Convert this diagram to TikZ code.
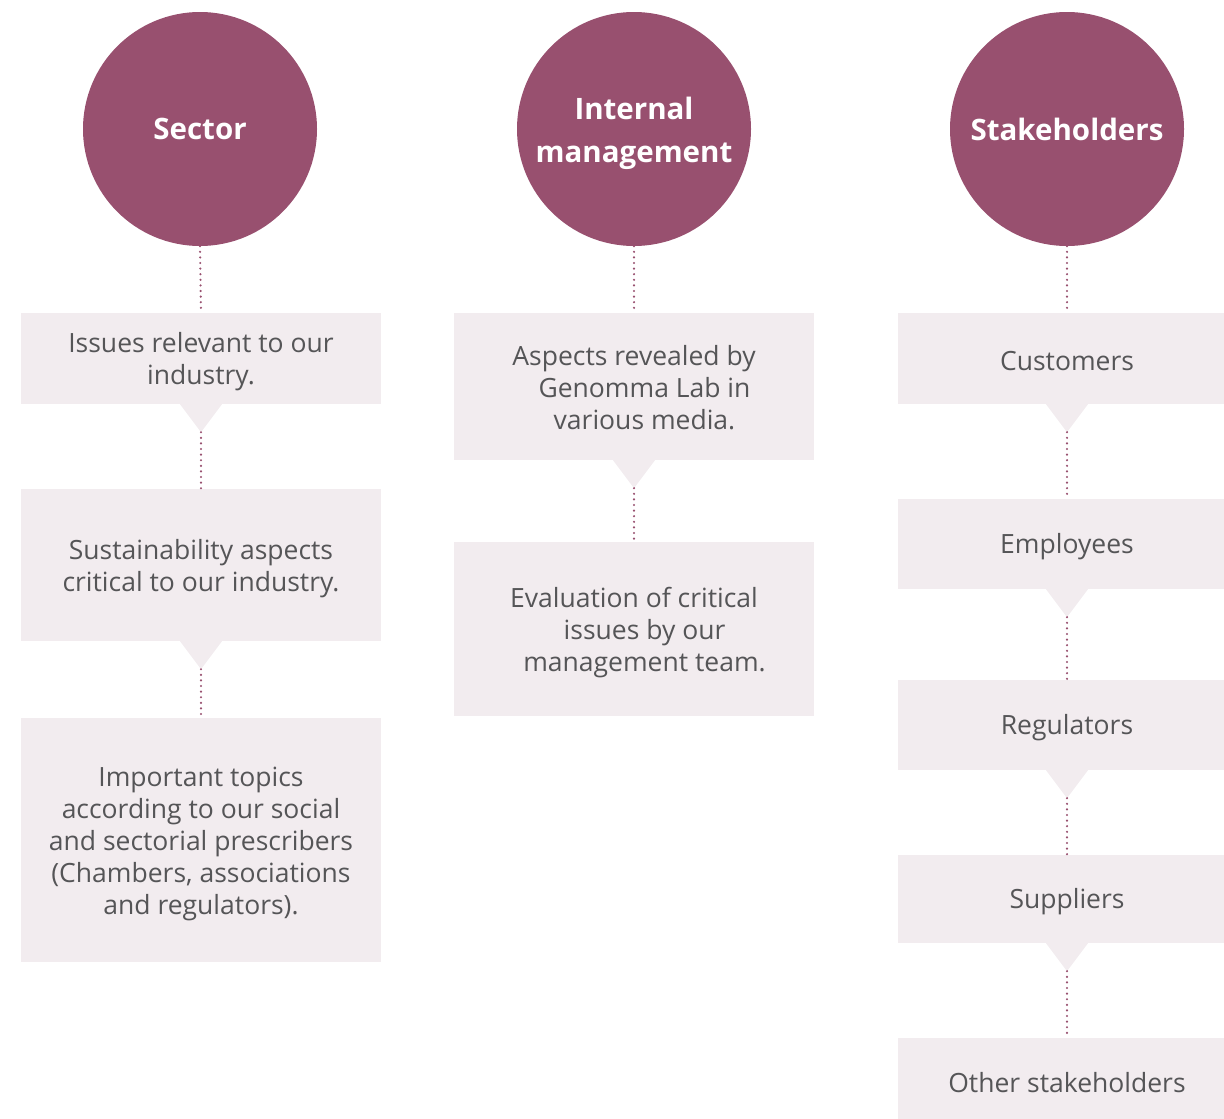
\documentclass[tikz,border=0pt]{standalone}
\usepackage{fontspec}
\setmainfont{Open Sans}
\definecolor{plum}{HTML}{98506F}
\definecolor{boxbg}{HTML}{F2ECEF}
\definecolor{txt}{HTML}{555557}
\begin{document}
\begin{tikzpicture}[x=1pt,y=-1pt,
  head/.style={circle,fill=plum,minimum size=234pt,inner sep=0pt},
  headtext/.style={inner sep=0pt,text=white,font=\fontsize{29.5}{43}\selectfont\bfseries,align=center},
  box/.style={rectangle,fill=boxbg,inner sep=0pt},
  boxtext/.style={inner sep=0pt,text=txt,align=center,font=\fontsize{26.5}{32}\selectfont},
  notch/.style={fill=boxbg},
  dots/.style={draw=plum,line width=2.4pt,line cap=round,dash pattern=on 0pt off 5.6pt}
]
\useasboundingbox (0,0) rectangle (1224,1119);
% heads
\node[head] (h1) at (200,129) {};
\node[head] (h2) at (634,129) {};
\node[head] (h3) at (1067,129) {};
\node[headtext] (h1t) at (h1.center) {Sector};
\node[headtext] (h2t) at ([yshift=-4pt]h2.center) {Internal\\management};
\node[headtext] (h3t) at (h3.center) {Stakeholders};
% column 1
\node[box,minimum width=360pt,minimum height=91pt] (a1) at (201,358.5) {};
\node[box,minimum width=360pt,minimum height=152pt] (a2) at (201,565) {};
\node[box,minimum width=360pt,minimum height=244pt] (a3) at (201,840) {};
% column 2
\node[box,minimum width=360pt,minimum height=147pt] (b1) at (634,386.5) {};
\node[box,minimum width=360pt,minimum height=174pt] (b2) at (634,629) {};
% column 3
\node[box,minimum width=338pt,minimum height=91pt] (c1) at (1067,358.5) {};
\node[box,minimum width=338pt,minimum height=90pt] (c2) at (1067,544) {};
\node[box,minimum width=338pt,minimum height=90pt] (c3) at (1067,725) {};
\node[box,minimum width=338pt,minimum height=88pt] (c4) at (1067,899) {};
\node[box,minimum width=338pt,minimum height=84pt] (c5) at (1067,1080) {};
% box texts
\node[boxtext] (a1t) at ([yshift=-3pt]a1.center) {Issues relevant to our\\industry.};
\node[boxtext] (a2t) at ([yshift=-4pt]a2.center) {Sustainability aspects\\critical to our industry.};
\node[boxtext] (a3t) at ([yshift=-4pt]a3.center) {Important topics\\according to our social\\and sectorial prescribers\\(Chambers, associations\\and regulators).};
\node[boxtext] (b1t) at ([yshift=-1pt]b1.center) {Aspects revealed by\\\hspace*{21pt}Genomma Lab in\\\hspace*{21pt}various media.};
\node[boxtext] (b2t) at ([yshift=-4pt]b2.center) {Evaluation of critical\\\hspace*{21pt}issues by our\\\hspace*{21pt}management team.};
\node[boxtext] (c1t) at ([yshift=-3pt]c1.center) {Customers};
\node[boxtext] (c2t) at ([yshift=-3pt]c2.center) {Employees};
\node[boxtext] (c3t) at ([yshift=-3pt]c3.center) {Regulators};
\node[boxtext] (c4t) at ([yshift=-3pt]c4.center) {Suppliers};
\node[boxtext] (c5t) at ([yshift=-3pt]c5.center) {Other stakeholders};
% notches
\foreach \n in {a1,a2,b1,c1,c2,c3,c4}{
  \fill[notch] ([xshift=-21pt]\n.south) -- ([xshift=21pt]\n.south) -- ([yshift=-28pt]\n.south) coordinate (\n-tip) -- cycle;
}
% dotted connectors
\draw[dots] (h1.south) -- (a1.north);
\draw[dots] (a1-tip) -- (a2.north);
\draw[dots] (a2-tip) -- (a3.north);
\draw[dots] (h2.south) -- (b1.north);
\draw[dots] (b1-tip) -- (b2.north);
\draw[dots] (h3.south) -- (c1.north);
\draw[dots] (c1-tip) -- (c2.north);
\draw[dots] (c2-tip) -- (c3.north);
\draw[dots] (c3-tip) -- (c4.north);
\draw[dots] (c4-tip) -- (c5.north);
\end{tikzpicture}
\end{document}
